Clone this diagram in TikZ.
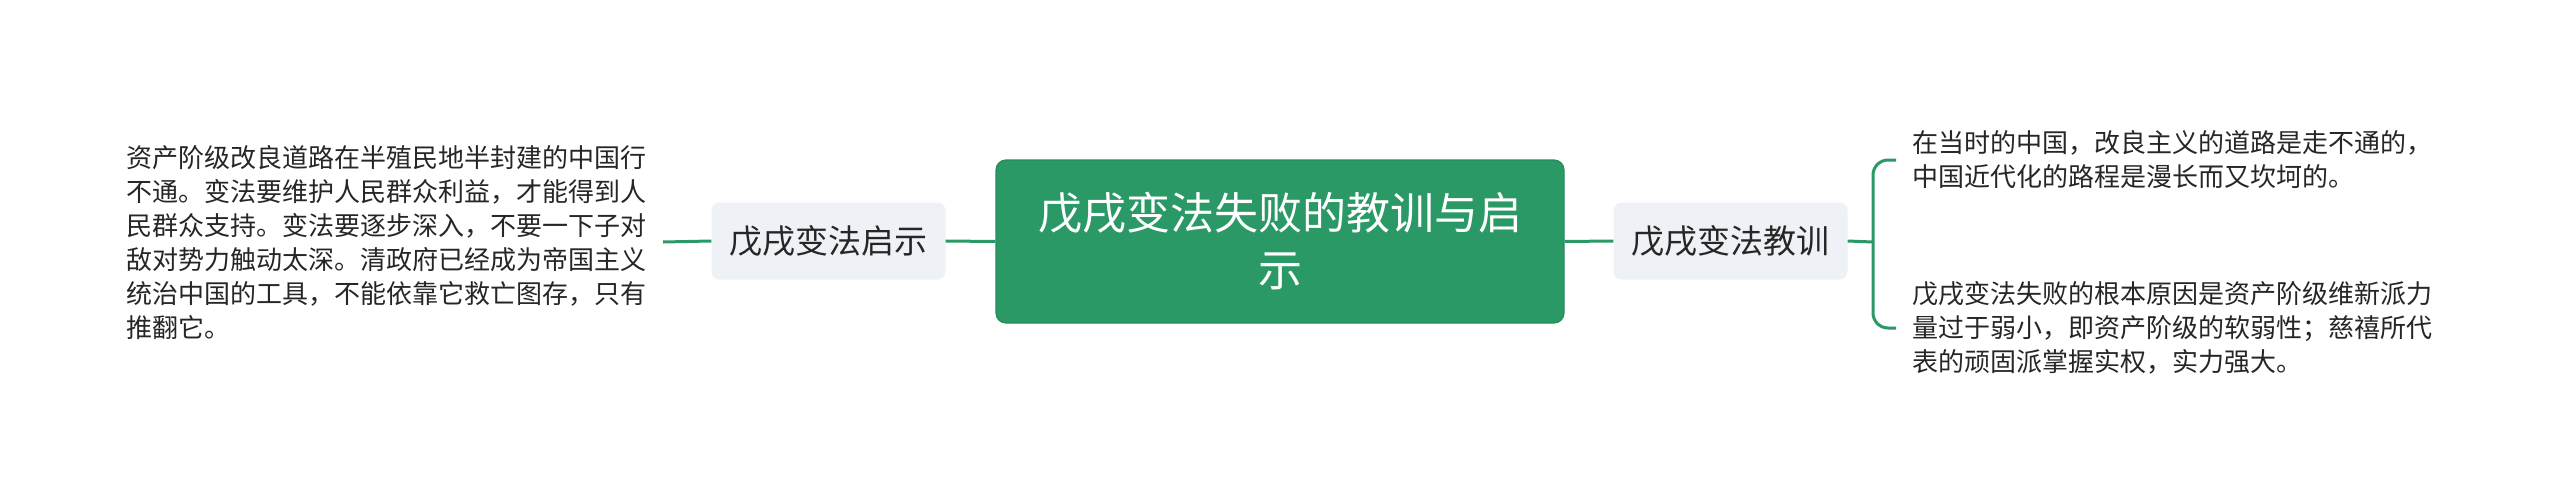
\documentclass[tikz,border=0pt]{standalone}
\usepackage{fontspec}
\setmainfont{Noto Sans CJK SC}
\definecolor{mainGreen}{RGB}{42,153,102}
\definecolor{mainBorder}{RGB}{36,140,92}
\definecolor{subFill}{RGB}{238,241,245}
\definecolor{txt}{RGB}{38,38,38}
\begin{document}
\begin{tikzpicture}[x=1pt,y=-1pt,
  rootbox/.style={rectangle, rounded corners=10pt, fill=mainGreen, draw=mainBorder, line width=1.2pt,
    minimum width=568pt, minimum height=163pt, inner sep=0pt, align=center, text=white,
    font=\fontsize{44}{57}\selectfont},
  subbox/.style={rectangle, rounded corners=8pt, fill=subFill, draw=none,
    minimum width=234pt, minimum height=77pt, inner sep=0pt, text=txt,
    font=\fontsize{33}{40}\selectfont},
  leaf/.style={anchor=west, inner sep=0pt, align=left, text=txt,
    font=\fontsize{26}{34}\selectfont},
  conn/.style={draw=mainGreen, line width=3pt}]
\useasboundingbox (0,0) rectangle (2560,501);
\fill[white] (0,0) rectangle (2560,501);

\node[rootbox] (root) at (1280,241.5) {戊戌变法失败的教训与启\\示};
\node[subbox] (lsub) at (828.5,241) {戊戌变法启示};
\node[subbox] (rsub) at (1730.5,241) {戊戌变法教训};

\node[leaf] (ltext) at (126,242) {资产阶级改良道路在半殖民地半封建的中国行\\不通。变法要维护人民群众利益，才能得到人\\民群众支持。变法要逐步深入，不要一下子对\\敌对势力触动太深。清政府已经成为帝国主义\\统治中国的工具，不能依靠它救亡图存，只有\\推翻它。};
\node[leaf] (rtext1) at (1912,160) {在当时的中国，改良主义的道路是走不通的，\\中国近代化的路程是漫长而又坎坷的。};
\node[leaf] (rtext2) at (1912,328) {戊戌变法失败的根本原因是资产阶级维新派力\\量过于弱小，即资产阶级的软弱性；慈禧所代\\表的顽固派掌握实权，实力强大。};

\coordinate (lend) at (663,242);
\coordinate (rjoin) at (1873,242);
\coordinate (rtop) at (1896,160);
\coordinate (rbot) at (1896,328);

\draw[conn] (lend) -- (lsub.west);
\draw[conn] (lsub.east) -- (root.west);
\draw[conn] (root.east) -- (rsub.west);
\draw[conn] (rsub.east) -- (rjoin);
\draw[conn, rounded corners=15pt] (rtop) -- (rtop -| rjoin) -- (rbot -| rjoin) -- (rbot);
\end{tikzpicture}
\end{document}
